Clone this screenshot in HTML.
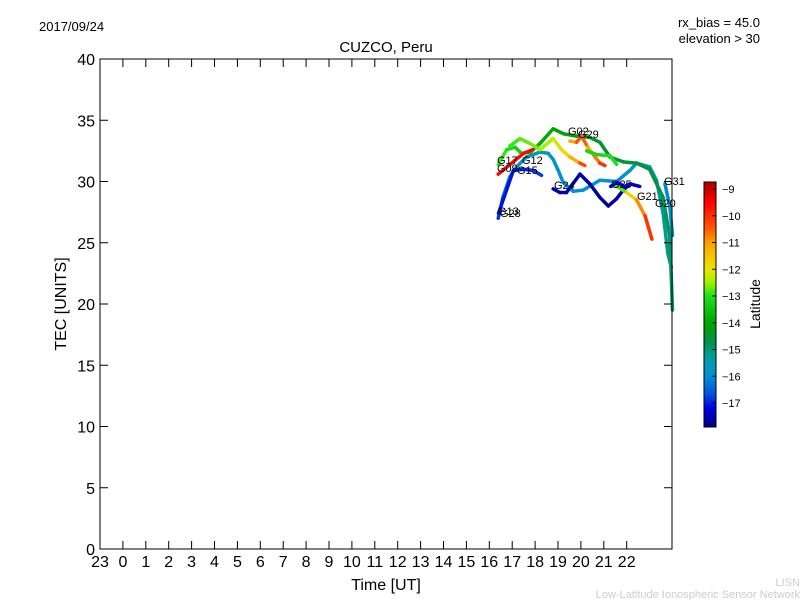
<!DOCTYPE html>
<html><head><meta charset="utf-8"><style>
body{margin:0;background:#fff;}
svg{display:block;font-family:"Liberation Sans","DejaVu Sans",sans-serif;}
</style></head><body>
<svg id="c" width="800" height="600">
<defs><linearGradient id="jet" x1="0" y1="0" x2="0" y2="1"></linearGradient></defs>
<text x="39" y="31" font-size="13">2017/09/24</text>
<text x="760" y="27" font-size="13" text-anchor="end">rx_bias = 45.0</text>
<text x="760" y="43" font-size="13" text-anchor="end">elevation &gt; 30</text>
<text x="386" y="52" font-size="15" text-anchor="middle">CUZCO, Peru</text>
<g id="marks"></g>
<g id="axes"></g>
<rect x="100" y="59" width="572" height="490" fill="none" stroke="#000" stroke-width="1"/>
<text x="386" y="590" font-size="16" text-anchor="middle">Time [UT]</text>
<text transform="translate(66,304) rotate(-90)" font-size="16" text-anchor="middle">TEC [UNITS]</text>
<rect x="704" y="182" width="12" height="245" fill="url(#jet)" stroke="#000"/>
<g id="cbticks"></g>
<text transform="translate(760,304) rotate(-90)" font-size="14" text-anchor="middle">Latitude</text>
<text x="800" y="586" font-size="11" fill="#ccc" text-anchor="end">LISN</text>
<text x="800" y="598" font-size="11" fill="#ccc" text-anchor="end">Low-Latitude Ionospheric Sensor Network</text>
</svg>
<script>
const xTickLabels=["23","0","1","2","3","4","5","6","7","8","9","10","11","12","13","14","15","16","17","18","19","20","21","22"];
const yTicks=[0,5,10,15,20,25,30,35,40];
const cbTicks=[-9,-10,-11,-12,-13,-14,-15,-16,-17];
const satNames=["G13","G17","G12","G02","G29l","G24","G25","G21","G15","G09r","G31"];
const satHours=[
[16.39,16.61,16.9,17.19,17.63,18.21,18.57,18.79,19.01,19.23,19.67,20.1,20.83,21.56,22.14,22.43,23.0,23.3,23.59,23.8,23.95],
[16.39,16.76,17.12,17.4,17.8,18.21,18.79,19.23,19.81,20.39,20.83,21.27,21.85,22.43,23.0,23.59,23.88,24.0],
[16.9,17.34,17.78,18.21,18.79,19.15,19.52,19.96,20.17],
[19.52,19.81,20.03,20.3,20.54,20.83,21.05],
[20.25,20.68,21.27,21.56],
[18.79,19.08,19.37,19.96,20.39,20.83,21.2,21.56,21.85,22.14,22.57],
[21.3,21.6,21.9,22.2],
[21.56,22.0,22.43,22.8,23.1],
[16.4,17.05,17.49,17.92,18.28],
[16.39,17.5,17.9],
[23.67,23.88,24.0]];
const satTec=[
[27.0,28.8,30.4,31.2,32.0,32.4,32.3,31.8,30.9,29.9,29.2,29.3,30.1,30.0,30.9,31.5,31.2,30.1,27.4,24.1,23.0],
[31.4,32.6,32.8,32.3,32.4,33.1,34.3,33.9,33.7,33.6,33.2,32.0,31.6,31.5,31.0,28.7,25.5,19.5],
[32.9,33.5,33.1,32.6,33.5,32.6,32.0,31.5,31.3],
[33.3,33.2,33.7,32.8,32.2,31.5,31.3],
[32.5,32.2,32.1,31.4],
[29.4,29.1,29.1,30.6,29.8,28.7,28.0,28.6,29.3,29.8,29.6],
[29.6,29.9,29.6,29.8],
[29.6,29.1,28.5,27.2,25.3],
[27.4,30.9,31.0,30.9,30.5],
[30.6,32.3,32.6],
[29.8,28.0,25.6]];
const satLat=[
[-17.2,-16.5,-16,-15.8,-15.7,-15.6,-15.6,-15.7,-15.8,-15.9,-16,-16,-16,-15.9,-15.8,-15.6,-15.4,-15.3,-15.2,-15.1,-15],
[-12.8,-13,-13.2,-13.4,-13.6,-13.8,-14,-14.1,-14.2,-14.3,-14.4,-14.5,-14.5,-14.6,-14.7,-14.8,-14.9,-15],
[-13,-12.8,-12.7,-12.6,-12.3,-12,-11.6,-10.8,-9.8],
[-11.2,-11,-9.8,-11.3,-11,-10.4,-9.8],
[-13.2,-13.2,-13.1,-13],
[-17.6,-17.5,-17.5,-17.6,-17.6,-17.7,-17.7,-17.6,-17.6,-17.5,-17.5],
[-17.3,-17.2,-17.2,-17.1],
[-13.3,-12.3,-11.2,-10.5,-9.6],
[-17.2,-17,-17,-16.9,-16.8],
[-9.6,-9.6,-9.5],
[-16.2,-16,-15.8]];
const labels=[["G13",498,215],["G28",500,217],["G17",497,164],["G12",522,164],["G09",497,172],["G15",517,174],["G02",568,135],["G29",578,138],["G24",554,189],["G25",611,188],["G21",637,200],["G20",655,207],["G31",664,185]];
const X=h=>100+(h+1)*22.9, Y=t=>549-t*12.25;
const ns="http://www.w3.org/2000/svg";
const cmap=[[-8.74,[170,0,0]],[-9.5,[255,0,0]],[-10.5,[255,90,0]],[-11,[255,160,0]],[-12,[235,230,0]],[-12.5,[160,240,0]],[-13,[30,225,30]],[-14,[0,165,0]],[-14.7,[0,145,70]],[-15.3,[0,160,160]],[-16,[0,145,210]],[-16.7,[0,80,225]],[-17.2,[0,0,225]],[-17.9,[0,0,130]]];
function jet(lat){
 if(lat>=cmap[0][0])return `rgb(${cmap[0][1]})`;
 for(let i=0;i<cmap.length-1;i++){const a=cmap[i],b=cmap[i+1];
  if(lat<=a[0]&&lat>=b[0]){const f=(a[0]-lat)/(a[0]-b[0]);
   return `rgb(${a[1].map((v,k)=>Math.round(v+(b[1][k]-v)*f)).join(',')})`;}}
 return `rgb(${cmap[cmap.length-1][1]})`;}
const grad=document.getElementById('jet');
cmap.forEach(s=>{const st=document.createElementNS(ns,'stop');st.setAttribute('offset',(-8.74-s[0])/9.16);st.setAttribute('stop-color',`rgb(${s[1]})`);grad.appendChild(st);});
const marks=document.getElementById('marks');
satHours.forEach((hs,s)=>{
 const g=document.createElementNS(ns,'g');
 
 
 for(let i=0;i<hs.length-1;i++){
  const l=document.createElementNS(ns,'line');
  l.setAttribute('x1',X(hs[i]));l.setAttribute('y1',Y(satTec[s][i]));
  l.setAttribute('x2',X(hs[i+1]));l.setAttribute('y2',Y(satTec[s][i+1]));
  l.setAttribute('stroke',jet((satLat[s][i]+satLat[s][i+1])/2));
  l.setAttribute('stroke-width','3.5');l.setAttribute('stroke-linecap','round');
  
  
  g.appendChild(l);}
 marks.appendChild(g);});
labels.forEach(L=>{const t=document.createElementNS(ns,'text');
 t.setAttribute('x',L[1]);t.setAttribute('y',L[2]);t.setAttribute('font-size','11');t.textContent=L[0];
 
 
 marks.appendChild(t);});
const ax=document.getElementById('axes');
function ln(x1,y1,x2,y2,p){const l=document.createElementNS(ns,'line');l.setAttribute('x1',x1);l.setAttribute('y1',y1);l.setAttribute('x2',x2);l.setAttribute('y2',y2);l.setAttribute('stroke','#000');
 
 
 p.appendChild(l);}
function tx(x,y,s,a,fs,p,name){const t=document.createElementNS(ns,'text');t.setAttribute('x',x);t.setAttribute('y',y);t.setAttribute('text-anchor',a);t.setAttribute('font-size',fs);t.textContent=s;
 
 
 p.appendChild(t);}
xTickLabels.forEach((s,i)=>{const x=X(i-1);ln(x,549,x,541,ax);ln(x,59,x,67,ax);tx(x,567,s,'middle',16,ax,'x-tick-label');});
yTicks.forEach(v=>{const y=Y(v);ln(100,y,108,y,ax);ln(672,y,664,y,ax);tx(95,y+6,String(v),'end',16,ax,'y-tick-label');});
const cb=document.getElementById('cbticks');
cbTicks.forEach(v=>{const y=189+(-9-v)*26.75;ln(712,y,716,y,cb);tx(722,y+4,'\u2212'+Math.abs(v),'start',11,cb,'colorbar-tick-label');});
</script>
</body></html>
